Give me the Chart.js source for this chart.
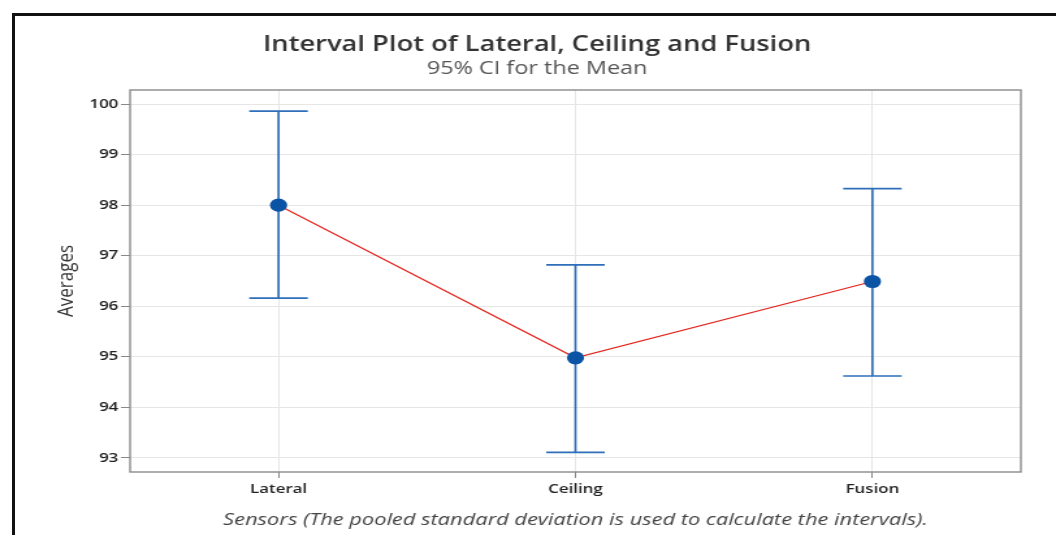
<!DOCTYPE html>
<html>
<head>
<meta charset="utf-8">
<script src="https://cdn.jsdelivr.net/npm/chart.js@4"></script>
<style>
  html, body { margin: 0; padding: 0; background: #fff; overflow: hidden; }
  #wrap { position: relative; width: 1056px; height: 535px; overflow: hidden; }
  /* the reference is stretched sideways, so the canvas is too */
  #stretch { position: absolute; left: 0; top: 0; width: 812px; height: 535px;
             transform: scaleX(1.3005); transform-origin: 0 0; }
  #frame { position: absolute; left: 12px; top: 13px; right: -10px; bottom: -10px;
           border-left: 3px solid #111; border-top: 3px solid #111; pointer-events: none; }
</style>
</head>
<body>
<div id="wrap">
  <div id="stretch"><canvas id="intervalChart" width="812" height="535"></canvas></div>
  <div id="frame"></div>
</div>
<script>
const sensors = ['Lateral', 'Ceiling', 'Fusion'];
const means = [98.0, 94.98, 96.49];
const lowerCI = [96.16, 93.11, 94.62];
const upperCI = [99.86, 96.82, 98.33];
const yTicks = [93, 94, 95, 96, 97, 98, 99, 100];

const uiFont = "'Open Sans', 'Noto Sans', sans-serif";

// barras de error + marco del area de trazado
const intervalPlugin = {
    id: 'intervals',
    beforeDatasetsDraw(chart) {
        const ctx = chart.ctx;
        const x = chart.scales.x;
        const y = chart.scales.y;
        ctx.save();
        ctx.strokeStyle = '#2f6fba';
        ctx.lineWidth = 1.7;
        sensors.forEach((s, i) => {
            const px = x.getPixelForValue(i);
            const top = y.getPixelForValue(upperCI[i]);
            const bot = y.getPixelForValue(lowerCI[i]);
            ctx.beginPath();
            ctx.moveTo(px, top); ctx.lineTo(px, bot);
            ctx.moveTo(px - 22.5, top); ctx.lineTo(px + 22.5, top);
            ctx.moveTo(px - 22.5, bot); ctx.lineTo(px + 22.5, bot);
            ctx.stroke();
        });
        ctx.restore();
    },
    afterDraw(chart) {
        const a = chart.chartArea;
        const ctx = chart.ctx;
        ctx.save();
        ctx.strokeStyle = '#8a8a8a';
        ctx.lineWidth = 1.4;
        ctx.strokeRect(a.left, a.top, a.right - a.left, a.bottom - a.top);
        ctx.restore();
    }
};

new Chart(document.getElementById('intervalChart'), {
    type: 'line',
    data: {
        labels: sensors,
        datasets: [{
            label: 'Mean',
            data: means,
            borderColor: '#e3231c',
            borderWidth: 1.2,
            pointRadius: 6.6,
            pointBackgroundColor: '#0b53a4',
            pointBorderColor: '#0b53a4',
            pointBorderWidth: 0,
            tension: 0
        }]
    },
    plugins: [intervalPlugin],
    options: {
        responsive: false,
        animation: false,
        layout: { padding: { top: 20, left: 41, right: 27, bottom: 0 } },
        plugins: {
            legend: { display: false },
            tooltip: { enabled: false },
            title: {
                display: true,
                text: 'Interval Plot of Lateral, Ceiling and Fusion',
                color: '#333',
                font: { family: uiFont, size: 21, weight: '600' },
                padding: { top: 12.4, bottom: 0 }
            },
            subtitle: {
                display: true,
                text: '95% CI for the Mean',
                color: '#555',
                font: { family: uiFont, size: 18, weight: 'normal' },
                padding: { top: 0.6, bottom: 10.2 }
            }
        },
        scales: {
            x: {
                type: 'category',
                offset: true,
                grid: { offset: false, color: '#e6e6e6', tickColor: '#888', tickLength: 6 },
                border: { display: false },
                ticks: { color: '#222', padding: 3, font: { family: uiFont, size: 13, weight: '600' } },
                title: {
                    display: true,
                    text: 'Sensors (The pooled standard deviation is used to calculate the intervals).',
                    color: '#444',
                    font: { family: uiFont, size: 16.8, style: 'italic' },
                    padding: { top: 4, bottom: 5 }
                },
                afterFit(scale) { scale.height = 63; }
            },
            y: {
                min: 92.72,
                max: 100.28,
                afterBuildTicks(scale) { scale.ticks = yTicks.map(v => ({ value: v })); },
                grid: { color: '#e6e6e6', tickColor: '#888', tickLength: 7 },
                border: { display: false },
                ticks: { color: '#222', padding: 2, font: { family: uiFont, size: 13, weight: '600' } },
                title: {
                    display: true,
                    text: 'Averages',
                    color: '#333',
                    font: { family: uiFont, size: 17 },
                    padding: { top: 0, bottom: 0 }
                },
                afterFit(scale) { scale.width = 59; }
            }
        }
    }
});
</script>
</body>
</html>
